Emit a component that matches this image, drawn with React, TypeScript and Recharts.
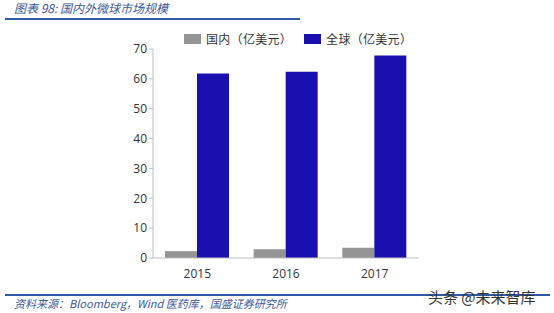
import React from "react";
import { BarChart, Bar, XAxis, YAxis, Legend } from "recharts";

const years = ["2015", "2016", "2017"];
const domestic = [2.3, 2.9, 3.4];
const global = [61.8, 62.4, 67.8];
const yTicks = [0, 10, 20, 30, 40, 50, 60, 70];
const seriesNames = ["国内（亿美元）", "全球（亿美元）"];
const titleText = "图表 98:  国内外微球市场规模";
const sourceText = "资料来源：Bloomberg，Wind 医药库，国盛证券研究所";
const watermark = "头条 @未来智库";

const data = years.map((y, i) => ({ year: y, domestic: domestic[i], global: global[i] }));

const GRAY = "#949494";
const BLUE = "#1A10B0";
const LINE_BLUE = "#2E5AA8";
const colors = [GRAY, BLUE];

function LegendContent() {
  return (
    <div style={{ display: "flex", alignItems: "center", fontSize: 12, fontFamily: "'Noto Sans CJK SC', sans-serif", color: "#333", lineHeight: "16px", height: 16 }}>
      {seriesNames.map((n, i) => (
        <div key={n} style={{ display: "flex", alignItems: "center", marginRight: 12 }}>
          <div style={{ width: 17, height: 10, background: colors[i], marginRight: 5 }} />
          <span style={{ letterSpacing: 0.3 }}>{n}</span>
        </div>
      ))}
    </div>
  );
}

export default function App() {
  return (
    <div style={{ position: "absolute", left: 0, top: 0, width: 554, height: 313, background: "#fff", overflow: "hidden" }}>
      <div style={{ position: "absolute", left: 14, top: 0, fontSize: 12, fontStyle: "italic", color: "#3D5A9A", fontFamily: "'Noto Sans CJK SC', sans-serif", lineHeight: "16px" }}>
        {titleText}
      </div>
      <div style={{ position: "absolute", left: 5, top: 18, width: 295, height: 2, background: LINE_BLUE }} />
      <BarChart width={554} height={313} data={data} margin={{ top: 33, right: 135, bottom: 25, left: 0 }} barGap={0} barSize={32}>
        <XAxis dataKey="year" axisLine={{ stroke: "#BFBFBF" }} tickLine={false} height={30}
          tick={{ fill: "#333", fontSize: 12, fontFamily: "'Open Sans', sans-serif" }} tickMargin={5} />
        <YAxis domain={[0, 70]} ticks={yTicks} width={153} axisLine={{ stroke: "#BFBFBF" }} tickLine={{ stroke: "#BFBFBF" }} tickSize={4}
          tick={{ fill: "#333", fontSize: 12, fontFamily: "'Open Sans', sans-serif" }} interval={0} />
        <Legend verticalAlign="top" align="left" content={<LegendContent />}
          wrapperStyle={{ top: 31, left: 184, width: 320 }} />
        <Bar dataKey="domestic" name={seriesNames[0]} fill={GRAY} isAnimationActive={false} />
        <Bar dataKey="global" name={seriesNames[1]} fill={BLUE} isAnimationActive={false} />
      </BarChart>
      <div style={{ position: "absolute", left: 5, top: 294, width: 545, height: 2, background: LINE_BLUE }} />
      <div style={{ position: "absolute", left: 14, top: 296, fontSize: 11, fontStyle: "italic", color: "#3D5A9A", fontFamily: "'Noto Sans CJK SC', sans-serif", lineHeight: "14px" }}>
        {sourceText}
      </div>
      <div style={{ position: "absolute", left: 428, top: 287, fontSize: 15, color: "#333", fontFamily: "'Noto Sans CJK SC', sans-serif", lineHeight: "20px" }}>
        {watermark}
      </div>
    </div>
  );
}
